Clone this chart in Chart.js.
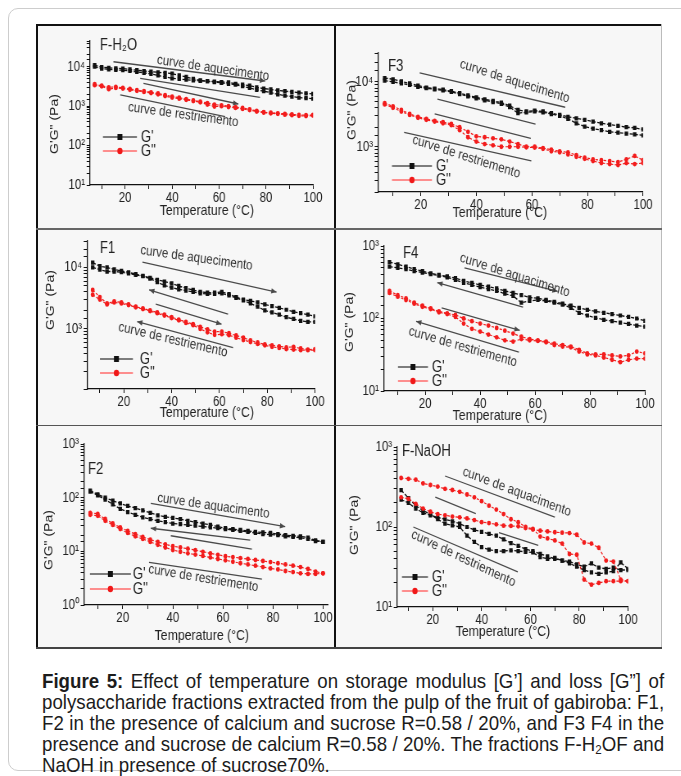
<!DOCTYPE html>
<html>
<head>
<meta charset="utf-8">
<script src="https://cdn.jsdelivr.net/npm/chart.js@4.4.0/dist/chart.umd.min.js"></script>
<style>
  body { margin: 0; background: #fff; font-family: 'Liberation Sans', Arial, sans-serif; }
  #page { position: relative; width: 681px; height: 776px; overflow: hidden; }
  .frame { position: absolute; left: 8px; top: 8px; width: 700px; height: 763px; border: 1.5px solid #cdcdcd; border-radius: 10px; box-sizing: border-box; }
  #grid { position: absolute; left: 36px; top: 24px; width: 626px; height: 624px; background: #f7f7f7; }
  .ln { position: absolute; }
  canvas { position: absolute; }
  #caption { position: absolute; left: 42px; top: 670px; width: 699px; transform: scaleX(0.89); transform-origin: 0 0;
             font-size: 21px; line-height: 21px; color: #1c1c1c; }
  .cl { white-space: nowrap; text-align: justify; text-align-last: justify; }
  .cl.last { text-align-last: left; }
  .cl sub { font-size: 13px; line-height: 0; vertical-align: -3px; }
</style>
</head>
<body>
<div id="page">
  <div class="frame"></div>
  <div id="grid"></div>
  <div class="ln" style="left:36px;top:24px;width:626px;height:1.5px;background:#111"></div>
  <div class="ln" style="left:36px;top:24px;width:1.5px;height:624px;background:#111"></div>
  <div class="ln" style="left:334px;top:24px;width:1.5px;height:624px;background:#111"></div>
  <div class="ln" style="left:661px;top:24px;width:1px;height:624px;background:#bbb"></div>
  <div class="ln" style="left:36px;top:228px;width:626px;height:1.5px;background:#666"></div>
  <div class="ln" style="left:36px;top:424.5px;width:626px;height:1.5px;background:#555"></div>
  <div class="ln" style="left:36px;top:647px;width:626px;height:1.5px;background:#444"></div>
  <div id="caption">
    <div class="cl"><b>Figure 5:</b> Effect of temperature on storage modulus [G’] and loss [G”] of</div>
    <div class="cl">polysaccharide fractions extracted from the pulp of the fruit of gabiroba: F1,</div>
    <div class="cl">F2 in the presence of calcium and sucrose R=0.58 / 20%, and F3 F4 in the</div>
    <div class="cl">presence and sucrose de calcium R=0.58 / 20%. The fractions F-H<sub>2</sub>OF and</div>
    <div class="cl last">NaOH in presence of sucrose70%.</div>
  </div>
</div>
<script>
var FONT = "'Liberation Sans', Arial, sans-serif";
var SQ = 0.82;   // the figure is a little squeezed sideways
var SUP = '\u2070\u00b9\u00b2\u00b3\u2074\u2075\u2076\u2077\u2078\u2079';

var temps = [7,10,13,16,19,22,25,28,31,34,37,40,43,46,49,52,55,58,61,64,67,70,73,76,79,82,85,88,91,94,97,100];
var xTicks = [10,20,30,40,50,60,70,80,90,100];
var xTickLabels = [20,40,60,80,100];
var seriesNames = ["G'", 'G"'];

// F-H2O
var h2oGpA = [11000,9800,9400,9100,9000,8600,8200,7800,7500,7200,7000,6700,6000,5500,4900,4500,4300,4200,4100,4000,3700,3500,3300,3000,2800,2650,2500,2400,2300,2200,2100,2050];
var h2oGpB = [10000,9000,8600,8300,8200,7800,7400,7000,6600,6000,5500,5100,4900,4700,4500,4400,4300,4100,3900,3700,3500,3200,2900,2600,2400,2200,2000,1850,1750,1650,1600,1550];
var h2oGppA = [3600,3300,3000,3100,2900,2750,2550,2400,2250,2100,1900,1750,1650,1500,1400,1300,1200,1100,1050,1000,950,900,830,760,700,680,660,640,620,600,590,600];
var h2oGppB = [3400,3200,2700,2900,2800,2600,2450,2300,2150,2000,1800,1650,1550,1450,1350,1250,1100,980,1000,950,900,850,800,730,690,660,640,610,590,570,560,580];
// F3
var f3GpA = [11500,11000,10200,9500,8800,8200,7900,7600,7200,6700,6200,5800,5400,5100,4800,4300,3700,3500,3600,3500,3300,3100,2900,2750,2600,2450,2300,2200,2100,2000,1950,1850];
var f3GpB = [10500,10000,9500,9000,8400,8000,7700,7400,7000,6500,6000,5600,5200,4900,4600,4100,3300,3400,3500,3400,3200,3000,2700,2300,2050,1900,1800,1700,1650,1600,1550,1500];
var f3GppA = [4700,4200,3700,3200,2900,2700,2500,2400,2250,2000,1700,1450,1400,1350,1300,1200,1100,1000,1000,950,900,850,820,740,680,640,620,600,580,640,720,620];
var f3GppB = [4500,4000,3500,3100,2800,2600,2450,2300,2150,1800,1400,1200,1100,1050,1000,1000,1000,980,970,930,850,820,760,700,650,600,560,540,520,560,540,560];
// F1
var f1GpA = [12000,10500,10000,9300,8800,8300,7800,7300,6800,6300,5900,5500,5000,4600,4300,4000,3900,3900,4000,3700,3300,3000,2850,2700,2500,2350,2200,2050,1900,1800,1700,1600];
var f1GpB = [10000,9200,8600,8600,8400,8000,7600,7200,6600,5800,5100,4700,4400,4200,4000,3800,3700,3700,3800,3500,3200,2900,2600,2300,2000,1850,1700,1550,1450,1350,1300,1300];
var f1GppA = [4300,3300,2600,2800,2700,2500,2300,2150,2000,1850,1700,1550,1420,1300,1200,1080,980,900,900,850,780,720,650,600,560,540,520,500,510,480,460,470];
var f1GppB = [3600,3000,2500,2700,2600,2450,2250,2100,1950,1800,1650,1500,1380,1250,1150,1000,880,800,820,790,720,660,610,570,540,510,490,470,460,450,450,450];
// F4
var f4GpA = [600,560,520,480,450,420,400,380,360,330,310,290,275,260,240,225,210,195,190,180,170,160,150,140,132,125,120,115,110,105,100,93];
var f4GpB = [520,500,480,450,430,410,390,370,340,310,290,270,255,240,220,205,165,175,180,175,165,155,140,120,110,102,96,92,88,84,80,77];
var f4GppA = [240,210,190,165,150,138,125,118,112,100,92,85,80,74,68,62,56,52,50,48,45,43,41,37,33,32,32,31,30,31,35,33];
var f4GppB = [225,200,180,160,145,135,122,115,105,85,72,66,60,55,50,48,52,50,49,47,43,41,40,35,32,31,29,27,25,27,28,28];
// F2
var f2GpA = [135,115,100,88,78,70,64,58,52,47,44,42,40,37,35,33,31,29,27,26,25,24,23,22.5,22,21,20,19.5,19,18,16,15];
var f2GpB = [130,110,92,75,62,54,48,43,40,37,35,33,32,31,30,29,28,27,26,25,24,23,22,21,20.5,20,19,18.5,18,17,15.5,15];
var f2GppA = [52,50,40,33,28,24,21,18.5,16.5,15,13.5,12.5,11.8,11.2,10.5,9.8,9.2,8.6,8.1,7.8,7.5,7.2,6.9,6.6,6.3,6.0,5.7,5.4,5.1,4.7,4.2,3.9];
var f2GppB = [48,46,37,31,26,22,19,17,15,13.2,11.8,10.6,9.8,9.2,8.7,8.2,7.7,7.2,6.8,6.4,6.0,5.7,5.4,5.1,4.8,4.6,4.3,4.1,3.9,3.8,3.8,3.9];
// F-NaOH
var naGpA = [290,230,185,160,145,125,110,105,100,78,65,56,52,50,50,51,50,49,48,42,40,41,38,35,32,29,27,26,27,28,36,30];
var naGpB = [220,200,170,150,140,132,125,118,110,100,92,87,82,78,70,63,58,53,50,46,43,40,38,37,34,32,35,31,30,31,29,29];
var naGppA = [410,400,390,350,335,320,300,290,275,255,235,210,185,165,145,125,115,100,95,76,72,68,62,46,45,22,19,20,21,21,21,21];
var naGppB = [235,225,195,170,155,145,140,135,132,128,122,115,112,108,104,103,102,97,93,90,88,86,85,84,80,64,62,55,38,37,22,21];

// arrows [t1, v1, t2, v2, head (1 end, -1 start, 0 none)] and notes [text, t, v, angle]
var h2oArrows = [[15,13400,79.6,4350,1],[26.4,5080,77.4,1680,0],[27.8,3800,68.2,1135,1],[17.9,1923,62.6,542,0]];
var h2oNotes = [['curve de aquecimento',57.4,9100,8.5],['curve de restriemento',44.7,600,8]];
var f3Arrows = [[19.6,13800,72,4070,0],[26,5430,61.3,2240,0],[25,3210,59.6,1350,0],[14,1670,59.8,603,0]];
var f3Notes = [['curve de aquecimento',53.8,10200,18],['curve de restriemento',36.4,697,18]];
var f1Arrows = [[27.8,12250,83.9,3980,1],[30.6,4325,63.6,1738,-1],[33.4,2530,60.9,1194,1],[25.6,1315,65.7,495,-1]];
var f1Notes = [['curve de aquecimento',50.4,14200,8],['curve de restriemento',40.6,661,13.5]];
var f4Arrows = [[34.3,498,68.2,237,1],[24.4,313,55.6,144,-1],[26,140,54.4,68.7,1],[16.7,91.4,54.1,34.5,-1]];
var f4Notes = [['curve de aquacimento',52.6,394,18],['curve de restriemento',33.7,40.5,16.5]];
var f2Arrows = [[31.2,78.5,84.9,28.8,1],[31.2,26.9,70.9,16.2,-1],[39.2,19.5,71.6,11.0,0],[30.5,6.24,75.6,3.04,0]];
var f2Notes = [['curve de aquacimento',56.2,70,8.3],['curve de restriemento',52.2,3.13,9.5]];
var naArrows = [[25,434,70,133,0],[21,237,37.6,147,0],[47.1,85,63.2,59,0],[12,100,54.8,27.4,0]];
var naNotes = [['curve de aquacimento',54.4,274,21],['curve de restriemento',32.5,40.3,25.5]];

var panels = [
  { box: [36,24,299,205], area: [54,17,22,44], xmin: 5, xmax: 100, ymin: 10, ymax: 45000,
    title: 'F-H\u2082O', titleAt: [100,46], yTitleAt: [55,124], xTitleAt: [207,211], legend: [103,137,137,151,141],
    gp: [h2oGpA,h2oGpB], gpp: [h2oGppA,h2oGppB], arrows: h2oArrows, notes: h2oNotes },
  { box: [335,24,327,205], area: [43,29,19,37], xmin: 4.6, xmax: 100, ymin: 200, ymax: 28000,
    title: 'F3', titleAt: [388,67], yTitleAt: [352,110], xTitleAt: [500,213], legend: [392,432,166,180,436],
    gp: [f3GpA,f3GpB], gpp: [f3GppA,f3GppB], arrows: f3Arrows, notes: f3Notes },
  { box: [36,229,299,196], area: [51,12,20,36], xmin: 4.6, xmax: 100, ymin: 105, ymax: 27000,
    title: 'F1', titleAt: [100,249], yTitleAt: [51,300], xTitleAt: [207,413], legend: [100,133,359,373,140],
    gp: [f1GpA,f1GpB], gpp: [f1GppA,f1GppB], arrows: f1Arrows, notes: f1Notes },
  { box: [335,229,327,196], area: [49,17,17,34], xmin: 5, xmax: 100, ymin: 10, ymax: 1000,
    title: 'F4', titleAt: [403,254], yTitleAt: [350,322], xTitleAt: [500,416], legend: [398,428,367,381,432],
    gp: [f4GpA,f4GpB], gpp: [f4GppA,f4GppB], arrows: f4Arrows, notes: f4Notes },
  { box: [36,425,299,223], area: [48,19,7,43], xmin: 4.5, xmax: 102, ymin: 1, ymax: 1000,
    title: 'F2', titleAt: [88,470], yTitleAt: [49,540], xTitleAt: [202,636], legend: [90,131,574,589,133],
    gp: [f2GpA,f2GpB], gpp: [f2GppA,f2GppB], arrows: f2Arrows, notes: f2Notes },
  { box: [335,425,327,223], area: [62,22,34,41], xmin: 5.3, xmax: 100, ymin: 10, ymax: 1000,
    title: 'F-NaOH', titleAt: [402,452], yTitleAt: [355,525], xTitleAt: [503,632], legend: [402,428,577,591,432],
    gp: [naGpA,naGpB], gpp: [naGppA,naGppB], arrows: naArrows, notes: naNotes }
];

function powerLabel(v) {
  var e = Math.log10(v);
  if (Math.abs(e - Math.round(e)) > 1e-6) return '';
  return '10' + String(Math.round(e)).split('').map(function (d) { return SUP[+d]; }).join('');
}

var decor = {
  id: 'decor',
  afterDraw: function (chart) {
    var o = chart.options.plugins.decor;
    var ctx = chart.ctx, xs = chart.scales.x, ys = chart.scales.y;
    var px = function (v) { return (v - o.box[0]) / SQ; };
    var py = function (v) { return v - o.box[1]; };
    ctx.save();
    // arrows
    ctx.strokeStyle = '#4a4a4a'; ctx.fillStyle = '#4a4a4a'; ctx.lineWidth = 1.3;
    o.arrows.forEach(function (a) {
      var x1 = xs.getPixelForValue(a[0]), y1 = ys.getPixelForValue(a[1]);
      var x2 = xs.getPixelForValue(a[2]), y2 = ys.getPixelForValue(a[3]);
      ctx.beginPath(); ctx.moveTo(x1, y1); ctx.lineTo(x2, y2); ctx.stroke();
      if (a[4]) {
        var tx = a[4] > 0 ? x2 : x1, ty = a[4] > 0 ? y2 : y1;
        var ang = a[4] > 0 ? Math.atan2(y2 - y1, x2 - x1) : Math.atan2(y1 - y2, x1 - x2);
        ctx.beginPath();
        ctx.moveTo(tx, ty);
        ctx.lineTo(tx - 7 * Math.cos(ang - 0.4), ty - 7 * Math.sin(ang - 0.4));
        ctx.lineTo(tx - 7 * Math.cos(ang + 0.4), ty - 7 * Math.sin(ang + 0.4));
        ctx.closePath(); ctx.fill();
      }
    });
    // rotated notes
    ctx.fillStyle = '#333'; ctx.font = '14px ' + FONT;
    ctx.textAlign = 'center'; ctx.textBaseline = 'middle';
    o.notes.forEach(function (n) {
      ctx.save();
      ctx.translate(xs.getPixelForValue(n[1]), ys.getPixelForValue(n[2]));
      ctx.rotate(Math.atan(Math.tan(n[3] * Math.PI / 180) * SQ));
      ctx.fillText(n[0], 0, 0);
      ctx.restore();
    });
    // panel name
    ctx.fillStyle = '#222'; ctx.font = '16px ' + FONT; ctx.textAlign = 'left';
    ctx.fillText(o.title, px(o.titleAt[0]), py(o.titleAt[1]));
    // axis titles
    ctx.font = '15px ' + FONT; ctx.textAlign = 'center';
    ctx.fillText('Temperature (\u00b0C)', px(o.xTitleAt[0]), py(o.xTitleAt[1]));
    ctx.save();
    ctx.translate(px(o.yTitleAt[0]), py(o.yTitleAt[1]));
    ctx.rotate(-Math.PI / 2);
    ctx.font = '14px ' + FONT;
    ctx.fillText('G\'G" (Pa)', 0, 0);
    ctx.restore();
    // legend
    var lg = o.legend;
    var items = [[lg[2], '#555', '#111', 'rect'], [lg[3], '#ff6b6b', '#f01818', 'circle']];
    items.forEach(function (e, i) {
      var y = py(e[0]), x1 = px(lg[0]), x2 = px(lg[1]), xm = (x1 + x2) / 2;
      ctx.strokeStyle = e[1]; ctx.lineWidth = 1.5;
      ctx.beginPath(); ctx.moveTo(x1, y); ctx.lineTo(x2, y); ctx.stroke();
      ctx.fillStyle = e[2];
      if (e[3] === 'rect') { ctx.fillRect(xm - 3, y - 3, 6, 6); }
      else { ctx.beginPath(); ctx.arc(xm, y, 3.2, 0, 2 * Math.PI); ctx.fill(); }
      ctx.fillStyle = '#222'; ctx.font = '16px ' + FONT; ctx.textAlign = 'left';
      ctx.fillText(seriesNames[i], px(lg[4]), y + 1);
    });
    ctx.restore();
  }
};

function series(vals, color, style, dash, r, bw) {
  return {
    data: temps.map(function (t, i) { return { x: t, y: vals[i] }; }),
    borderColor: color, backgroundColor: color, borderWidth: bw, borderDash: dash,
    pointStyle: style, pointRadius: r, pointBorderWidth: 0, tension: 0
  };
}

var page = document.getElementById('page');
panels.forEach(function (p) {
  var cv = document.createElement('canvas');
  cv.width = Math.round(p.box[2] / SQ);
  cv.height = p.box[3];
  cv.style.left = p.box[0] + 'px';
  cv.style.top = p.box[1] + 'px';
  cv.style.width = p.box[2] + 'px';
  cv.style.height = p.box[3] + 'px';
  page.appendChild(cv);

  new Chart(cv, {
    type: 'line',
    data: {
      datasets: [
        series(p.gpp[0], '#f21c1c', 'circle', [3, 2], 2.4, 1.2),
        series(p.gpp[1], '#f21c1c', 'circle', [3, 2], 2.4, 1.2),
        series(p.gp[0], '#111', 'rect', [4, 2], 3, 1.3),
        series(p.gp[1], '#111', 'rect', [4, 2], 3, 1.3)
      ]
    },
    options: {
      responsive: false,
      animation: false,
      events: [],
      layout: { padding: { left: 0, bottom: 0, top: p.area[1], right: p.area[2] / SQ } },
      plugins: {
        legend: { display: false },
        tooltip: { enabled: false },
        decor: p
      },
      scales: {
        x: {
          type: 'linear', min: p.xmin, max: p.xmax,
          afterBuildTicks: function (s) { s.ticks = xTicks.map(function (v) { return { value: v }; }); },
          afterFit: function (s) { s.height = p.area[3]; },
          border: { color: '#111', width: 1.3 },
          grid: { drawOnChartArea: false, color: '#111', tickLength: 4 },
          ticks: {
            autoSkip: false, maxRotation: 0, padding: 1, color: '#222',
            font: { family: FONT, size: 14 },
            callback: function (v) { return xTickLabels.indexOf(v) >= 0 ? String(v) : ''; }
          }
        },
        y: {
          type: 'logarithmic', min: p.ymin, max: p.ymax,
          afterFit: function (s) { s.width = p.area[0] / SQ; },
          border: { color: '#111', width: 1.3 },
          grid: { drawOnChartArea: false, color: '#111', tickLength: 4 },
          ticks: {
            autoSkip: false, padding: 2, color: '#222',
            font: { family: FONT, size: 14 },
            callback: powerLabel
          }
        }
      }
    },
    plugins: [decor]
  });
});
</script>
</body>
</html>
